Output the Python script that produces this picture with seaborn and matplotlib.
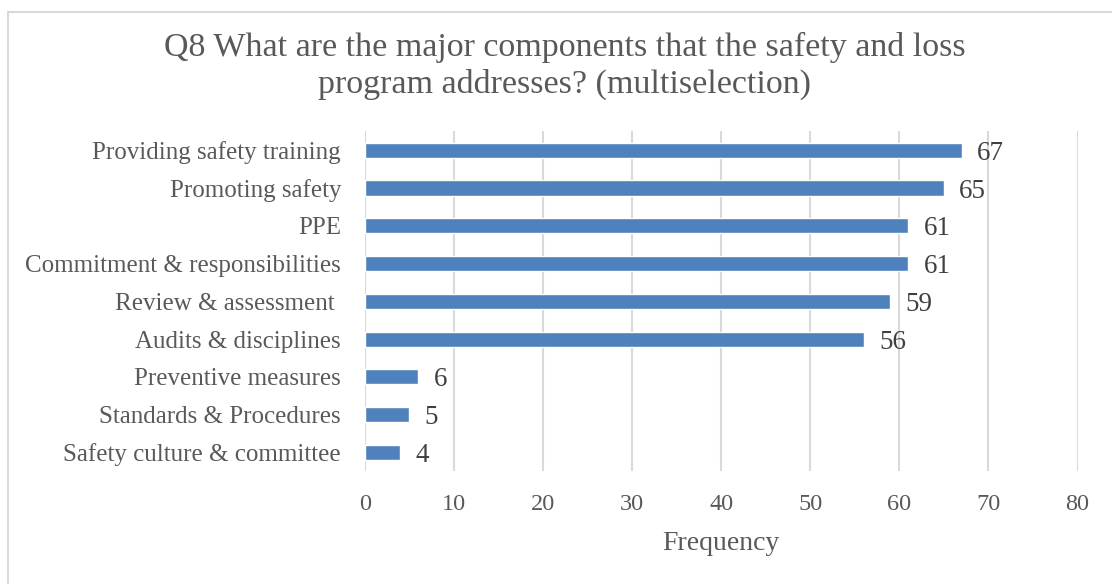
import matplotlib
matplotlib.use("Agg")
import matplotlib.pyplot as plt
import seaborn as sns
import pandas as pd
from matplotlib.patches import Rectangle

categories = [
    "Providing safety training",
    "Promoting safety",
    "PPE",
    "Commitment & responsibilities",
    "Review & assessment ",
    "Audits & disciplines",
    "Preventive measures",
    "Standards & Procedures",
    "Safety culture & committee",
]
frequency = [67, 65, 61, 61, 59, 56, 6, 5, 4]
x_ticks = [0, 10, 20, 30, 40, 50, 60, 70, 80]

df = pd.DataFrame({"component": categories, "frequency": frequency})

sns.set_theme(style="white")
plt.rcParams["font.family"] = ["Liberation Serif", "DejaVu Serif"]

TEXT = "#595959"
GRID = "#d9d9d9"
BAR = "#4f81bd"

fig = plt.figure(figsize=(11.12, 5.84), dpi=100)
ax = fig.add_axes([0.328, 0.193, 0.641, 0.582])

# chart frame
fig.patches.append(Rectangle((8 / 1112, -0.01), 1.0, (584 - 12) / 584 + 0.01,
                             transform=fig.transFigure, fill=False,
                             edgecolor=GRID, linewidth=1.5))

sns.barplot(data=df, x="frequency", y="component", orient="h",
            color=BAR, saturation=1, width=0.4, ax=ax, zorder=3)

ax.set_xlim(0, 80)
ax.set_ylim(8.5, -0.5)
ax.set_xticks(x_ticks)
ax.set_xticklabels([str(t) for t in x_ticks])
ax.grid(axis="x", color=GRID, linewidth=1.5, zorder=0)
ax.grid(axis="y", visible=False)
for s in ax.spines.values():
    s.set_visible(False)
ax.tick_params(axis="both", length=0, colors=TEXT)
ax.tick_params(axis="x", pad=16, labelsize=17.5)
ax.tick_params(axis="y", pad=17, labelsize=18)
for lbl in ax.get_xticklabels() + ax.get_yticklabels():
    lbl.set_color(TEXT)

ax.set_xlabel("Frequency", fontsize=20, color=TEXT, labelpad=12)
ax.set_ylabel("")

for i, v in enumerate(frequency):
    ax.annotate(str(v), xy=(v, i), xytext=(11, 0), textcoords="offset points",
                va="center_baseline", ha="left", fontsize=19.5, color="#404040")

fig.text(0.508, 0.887, "Q8 What are the major components that the safety and loss\nprogram addresses? (multiselection)",
         ha="center", va="center", fontsize=24.5, color=TEXT, linespacing=1.25)

fig.savefig("out.png", dpi=100)
